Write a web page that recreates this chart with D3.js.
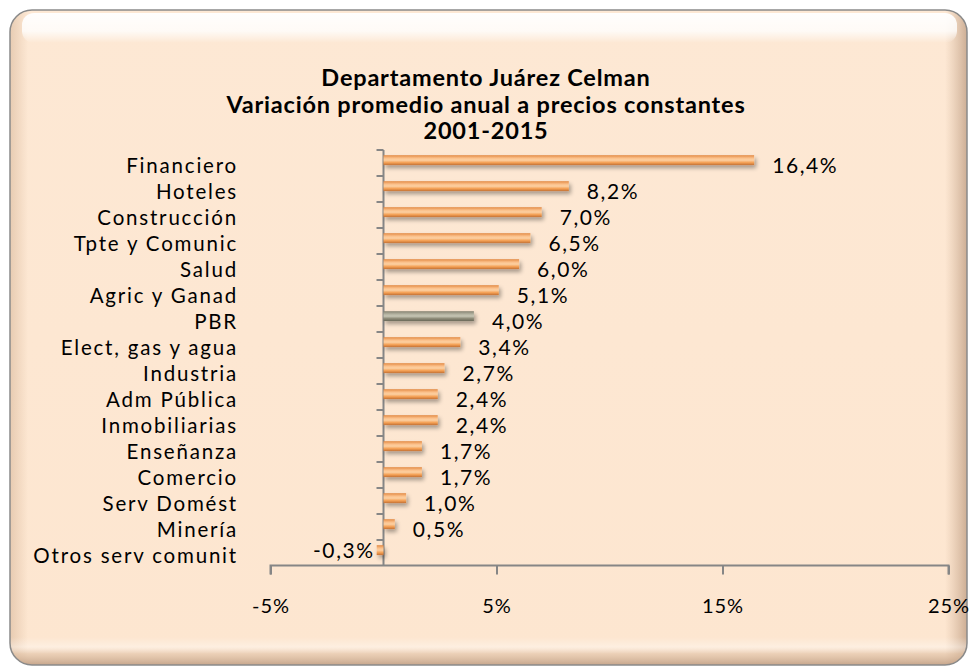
<!DOCTYPE html>
<html><head><meta charset="utf-8">
<script src="https://cdn.jsdelivr.net/npm/d3@7/dist/d3.min.js"></script>
<style>
html,body{margin:0;padding:0;background:#fff;}
svg{display:block;}
text{font-family:Lato,"Open Sans",sans-serif;fill:#000;}
</style></head>
<body>
<svg id="chart" width="972" height="671"></svg>
<script>
const categories = ["Financiero","Hoteles","Construcción","Tpte y Comunic","Salud","Agric y Ganad","PBR","Elect, gas y agua","Industria","Adm Pública","Inmobiliarias","Enseñanza","Comercio","Serv Domést","Minería","Otros serv comunit"];
const values = [16.4,8.2,7.0,6.5,6.0,5.1,4.0,3.4,2.7,2.4,2.4,1.7,1.7,1.0,0.5,-0.3];
const valueLabels = ["16,4%","8,2%","7,0%","6,5%","6,0%","5,1%","4,0%","3,4%","2,7%","2,4%","2,4%","1,7%","1,7%","1,0%","0,5%","-0,3%"];
const xTicks = [-5,5,15,25];
const titleLines = ["Departamento Juárez Celman","Variación promedio anual a precios constantes","2001-2015"];
const highlight = "PBR";

const svg = d3.select("#chart");
const defs = svg.append("defs");

const bgGrad = defs.append("linearGradient").attr("id","bg").attr("x1",0).attr("y1",0).attr("x2",0).attr("y2",1);
bgGrad.append("stop").attr("offset","0").attr("stop-color","#fde8d4");
bgGrad.append("stop").attr("offset","1").attr("stop-color","#fde6d0");

const topHi = defs.append("linearGradient").attr("id","tophi").attr("x1",0).attr("y1",0).attr("x2",0).attr("y2",1);
topHi.append("stop").attr("offset","0").attr("stop-color","#fff").attr("stop-opacity",0.95);
topHi.append("stop").attr("offset","0.6").attr("stop-color","#fff").attr("stop-opacity",0.8);
topHi.append("stop").attr("offset","1").attr("stop-color","#fff").attr("stop-opacity",0);

const rightSh = defs.append("linearGradient").attr("id","rightsh").attr("x1",0).attr("y1",0).attr("x2",1).attr("y2",0);
rightSh.append("stop").attr("offset","0").attr("stop-color","#c9a88c").attr("stop-opacity",0);
rightSh.append("stop").attr("offset","1").attr("stop-color","#b8957a").attr("stop-opacity",0.7);

const leftSh = defs.append("linearGradient").attr("id","leftsh").attr("x1",0).attr("y1",0).attr("x2",1).attr("y2",0);
leftSh.append("stop").attr("offset","0").attr("stop-color","#d9b99c").attr("stop-opacity",0.6);
leftSh.append("stop").attr("offset","1").attr("stop-color","#d9b99c").attr("stop-opacity",0);

const botSh = defs.append("linearGradient").attr("id","botsh").attr("x1",0).attr("y1",0).attr("x2",0).attr("y2",1);
botSh.append("stop").attr("offset","0").attr("stop-color","#fff").attr("stop-opacity",0.0);
botSh.append("stop").attr("offset","0.35").attr("stop-color","#fff").attr("stop-opacity",0.35);
botSh.append("stop").attr("offset","0.6").attr("stop-color","#d9b99c").attr("stop-opacity",0.5);
botSh.append("stop").attr("offset","1").attr("stop-color","#b8957a").attr("stop-opacity",0.8);

const clip = defs.append("clipPath").attr("id","frameclip");
clip.append("rect").attr("x",10).attr("y",10).attr("width",957).attr("height",655).attr("rx",22);

function barGrad(id, stops){
  const g = defs.append("linearGradient").attr("id",id).attr("x1",0).attr("y1",0).attr("x2",0).attr("y2",1);
  stops.forEach(s=>g.append("stop").attr("offset",s[0]).attr("stop-color",s[1]));
}
barGrad("orange",[[0,"#e38a44"],[0.3,"#fbc08a"],[0.5,"#fcd0a2"],[0.75,"#f4a055"],[1,"#c47234"]]);
barGrad("gray",[[0,"#858372"],[0.3,"#b3b2a0"],[0.5,"#c6c5b4"],[0.75,"#8c8a77"],[1,"#6a6858"]]);

const shadow = defs.append("filter").attr("id","shadow").attr("x","-20%").attr("y","-50%").attr("width","140%").attr("height","250%");
shadow.append("feGaussianBlur").attr("in","SourceAlpha").attr("stdDeviation",2);
shadow.append("feOffset").attr("dx",2).attr("dy",3).attr("result","b");
shadow.append("feComponentTransfer").append("feFuncA").attr("type","linear").attr("slope",0.35);
const mg = shadow.append("feMerge");
mg.append("feMergeNode");
mg.append("feMergeNode").attr("in","SourceGraphic");

// frame
svg.append("rect").attr("x",10).attr("y",10).attr("width",957).attr("height",655).attr("rx",22)
  .attr("fill","url(#bg)");
const fr = svg.append("g").attr("clip-path","url(#frameclip)");
fr.append("rect").attr("x",945).attr("y",10).attr("width",22).attr("height",655).attr("fill","url(#rightsh)");
fr.append("rect").attr("x",10).attr("y",10).attr("width",18).attr("height",655).attr("fill","url(#leftsh)");
fr.append("rect").attr("x",10).attr("y",637).attr("width",957).attr("height",28).attr("fill","url(#botsh)");
fr.append("rect").attr("x",22).attr("y",13).attr("width",935).attr("height",30).attr("rx",12).attr("fill","url(#tophi)");
svg.append("rect").attr("x",10).attr("y",10).attr("width",957).attr("height",655).attr("rx",22)
  .attr("fill","none").attr("stroke","#8a8a8a").attr("stroke-width",1.5);

// title
svg.append("g").selectAll("text").data(titleLines).join("text")
  .attr("x",486).attr("y",(d,i)=>86+i*26.5)
  .attr("text-anchor","middle").attr("font-weight","bold").attr("font-size",23.5).attr("letter-spacing","0.8px")
  .text(d=>d);

// scales
const x = d3.scaleLinear().domain([-5,25]).range([270.5,948.5]);
const y = d3.scaleBand().domain(categories).range([150,566]).paddingInner(0).paddingOuter(0);
const bw = y.bandwidth();

// axes
const gx = svg.append("g").attr("transform","translate(0,565.5)")
  .call(d3.axisBottom(x).tickValues(xTicks).tickSize(9).tickPadding(24).tickFormat(d=>d+"%"));
gx.select(".domain").attr("stroke","#868686").attr("stroke-width",2).attr("d","M"+x(-5)+",9V0H"+x(25)+"V9");
gx.selectAll(".tick line").attr("stroke","#868686").attr("stroke-width",2);
gx.selectAll(".tick text").attr("font-size",20).attr("letter-spacing","1px").attr("font-family","Lato, sans-serif").attr("fill","#000");

const gy = svg.append("g").attr("transform","translate("+x(0)+",0)");
gy.append("line").attr("x1",0).attr("x2",0).attr("y1",150).attr("y2",566).attr("stroke","#868686").attr("stroke-width",2);
gy.selectAll("line.tk").data(categories).join("line").attr("class","tk")
  .attr("x1",-7).attr("x2",0).attr("y1",d=>y(d)).attr("y2",d=>y(d)).attr("stroke","#868686").attr("stroke-width",2);

// category labels
svg.append("g").selectAll("text").data(categories).join("text")
  .attr("x",238).attr("y",d=>y(d)+bw/2+9.5)
  .attr("text-anchor","end").attr("font-size",20.5).attr("letter-spacing","1.8px")
  .text(d=>d);

// bars
const bars = svg.append("g").attr("filter","url(#shadow)");
const barH = bw*0.38;
bars.selectAll("rect").data(values).join("rect")
  .attr("x",d=>x(Math.min(0,d)))
  .attr("y",(d,i)=>y(categories[i])+bw*0.2)
  .attr("width",d=>Math.abs(x(d)-x(0)))
  .attr("height",barH)
  .attr("fill",(d,i)=>categories[i]===highlight?"url(#gray)":"url(#orange)");

// value labels
svg.append("g").selectAll("text").data(values).join("text")
  .attr("x",d=>d>=0?x(d)+18:x(d)-2)
  .attr("y",(d,i)=>y(categories[i])+bw*0.2+barH/2+(d>=0?13:8))
  .attr("text-anchor",d=>d>=0?"start":"end")
  .attr("font-size",21).attr("letter-spacing","1.6px")
  .text((d,i)=>valueLabels[i]);
</script>
</body></html>
